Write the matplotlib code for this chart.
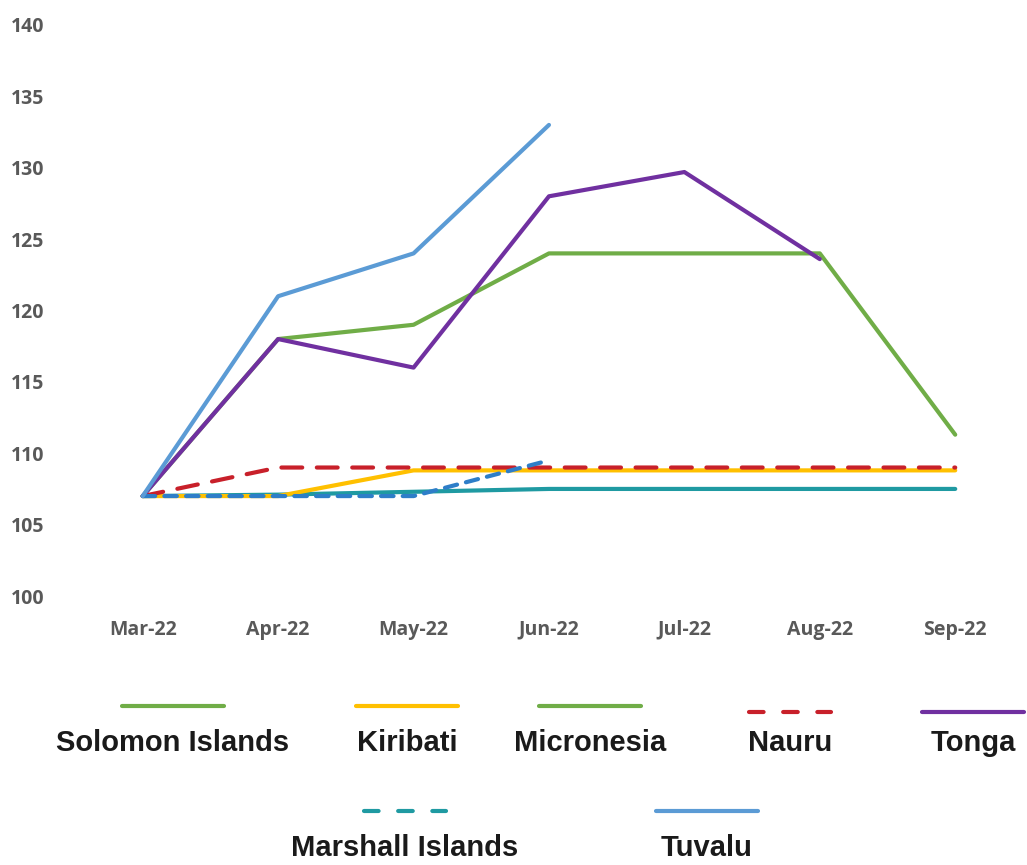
import numpy as np
import matplotlib
matplotlib.use("Agg")
import matplotlib.pyplot as plt
from matplotlib.lines import Line2D

months = ["Mar-22", "Apr-22", "May-22", "Jun-22", "Jul-22", "Aug-22", "Sep-22"]
nan = np.nan
solomon = [107, 118, 119, 124, 124, 124, 111.3]
kiribati = [107, 107, 108.8, 108.8, 108.8, 108.8, 108.8]
micronesia = [107, 107.1, 107.3, 107.5, 107.5, 107.5, 107.5]
nauru = [107, 109, 109, 109, 109, 109, 109]
tonga = [107, 118, 116, 128, 129.7, 123.6, nan]
marshall = [107, 107, 107, 109.5, nan, nan, nan]
tuvalu = [107, 121, 124, 133, nan, nan, nan]

legend_labels = ["Solomon Islands", "Kiribati", "Micronesia", "Nauru", "Tonga",
                 "Marshall Islands", "Tuvalu"]

GREEN, YELLOW, RED = "#70ad47", "#ffc000", "#c8202a"
PURPLE, LBLUE, TEAL, BLUE = "#7030a0", "#5b9bd5", "#1f9aa2", "#2e7ec8"
TICK = "#595959"

W, H = 1027, 865
fig = plt.figure(figsize=(W / 100, H / 100), dpi=100)
ax = fig.add_axes([75 / W, 1 - 596 / H, (W - 75) / W, (596 - 25) / H])

x = np.arange(len(months))
lw = 3.0
ax.plot(x, micronesia, color=TEAL, lw=lw, solid_capstyle="round")
ax.plot(x, kiribati, color=YELLOW, lw=lw, solid_capstyle="round")
ax.plot(x, solomon, color=GREEN, lw=lw, solid_capstyle="round")
ax.plot(x, nauru, color=RED, lw=lw, dashes=(5, 3.5), dash_capstyle="round")
ax.plot(x, tonga, color=PURPLE, lw=lw, solid_capstyle="round")
ax.plot(x, marshall, color=BLUE, lw=lw, dashes=(3, 2.2), dash_capstyle="round")
ax.plot(x, tuvalu, color=LBLUE, lw=lw, solid_capstyle="round")

ax.set_xlim(-0.5, 6.53)
ax.set_ylim(100, 140)
ax.set_yticks(range(100, 141, 5))
ax.set_xticks(x)
ax.set_xticklabels(months)
for s in ax.spines.values():
    s.set_visible(False)
ax.tick_params(length=0, labelsize=14, labelcolor=TICK)
ax.tick_params(axis="y", pad=22)
ax.tick_params(axis="x", pad=17)
for t in ax.get_xticklabels() + ax.get_yticklabels():
    t.set_fontfamily("Open Sans")
    t.set_fontweight("bold")

# legend, Excel-style: line sample above each label
px = lw * 100 / 72
dash = (3.5, 4.7)
dash_len = (3 * dash[0] + 2 * dash[1]) * px
entries = [
    (173, 706, 743, GREEN, False),
    (407, 706, 743, YELLOW, False),
    (590, 706, 743, GREEN, False),
    (790, 712, 743, RED, True),
    (973, 712, 743, PURPLE, False),
    (405, 811, 848, TEAL, True),
    (707, 811, 848, LBLUE, False),
]
for (cx, ly, ty, col, dashed), lab in zip(entries, legend_labels):
    half = dash_len / 2 if dashed else 51
    kw = dict(color=col, lw=lw, transform=None, solid_capstyle="round",
              dash_capstyle="round")
    if dashed:
        kw["dashes"] = dash
    fig.add_artist(Line2D([cx - half, cx + half], [H - ly, H - ly], **kw))
    fig.text(cx / W, 1 - ty / H, lab, ha="center", va="center", fontsize=21,
             fontweight="bold", color="#1a1a1a",
             family=["Liberation Sans Narrow", "Liberation Sans", "DejaVu Sans"])

fig.savefig("out.png", dpi=100, facecolor="white")
